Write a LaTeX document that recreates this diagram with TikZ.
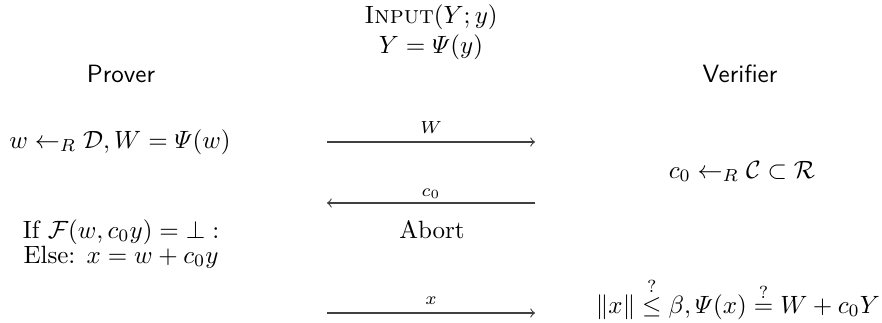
\documentclass[tikz,border=0pt]{standalone}
\usepackage{amsmath,amssymb}
\begin{document}
\begin{tikzpicture}[x=0.4pt,y=-0.4pt,
  txt/.style={inner sep=0pt,anchor=base},
  lbl/.style={inner sep=0pt,anchor=base,font=\scriptsize},
  msg/.style={->,>=to,line width=0.45pt,draw=black!75}]
\useasboundingbox (0,0) rectangle (882,322);
% header
\node[txt] (inp) at (431,23) {\textsc{Input}$(Y;y)$};
\node[txt] (pub) at (431,53) {$Y=\varPsi(y)$};
\node[txt,font=\sffamily] (prov) at (121,82) {Prover};
\node[txt,font=\sffamily] (ver) at (740,82) {Verifier};
% round 1
\node[txt] (commit) at (120,148) {$w \leftarrow_R \mathcal{D}, W = \varPsi(w)$};
\coordinate (a1s) at (327,142);
\coordinate (a1e) at (535,142);
\draw[msg] (a1s) -- (a1e);
\node[lbl] (l1) at (431,133) {$W$};
% challenge
\node[txt] (chal) at (742,178) {$c_0 \leftarrow_R \mathcal{C} \subset \mathcal{R}$};
\coordinate (a2s) at (535,203);
\coordinate (a2e) at (327,203);
\draw[msg] (a2s) -- (a2e);
\node[lbl] (l2) at (431,196) {$c_0$};
% response
\node[txt] (ifl) at (121,238) {If $\mathcal{F}(w,c_0y)=\bot:$};
\node[txt] (abort) at (432,238) {Abort};
\node[txt] (els) at (121,263) {Else: $x=w+c_0y$};
\coordinate (a3s) at (327,313);
\coordinate (a3e) at (535,313);
\draw[msg] (a3s) -- (a3e);
\node[lbl] (l3) at (431,304) {$x$};
% verification
\node[txt] (chk) at (738,313) {$\|x\| \overset{?}{\leq} \beta, \varPsi(x) \overset{?}{=} W + c_0Y$};
\end{tikzpicture}
\end{document}
